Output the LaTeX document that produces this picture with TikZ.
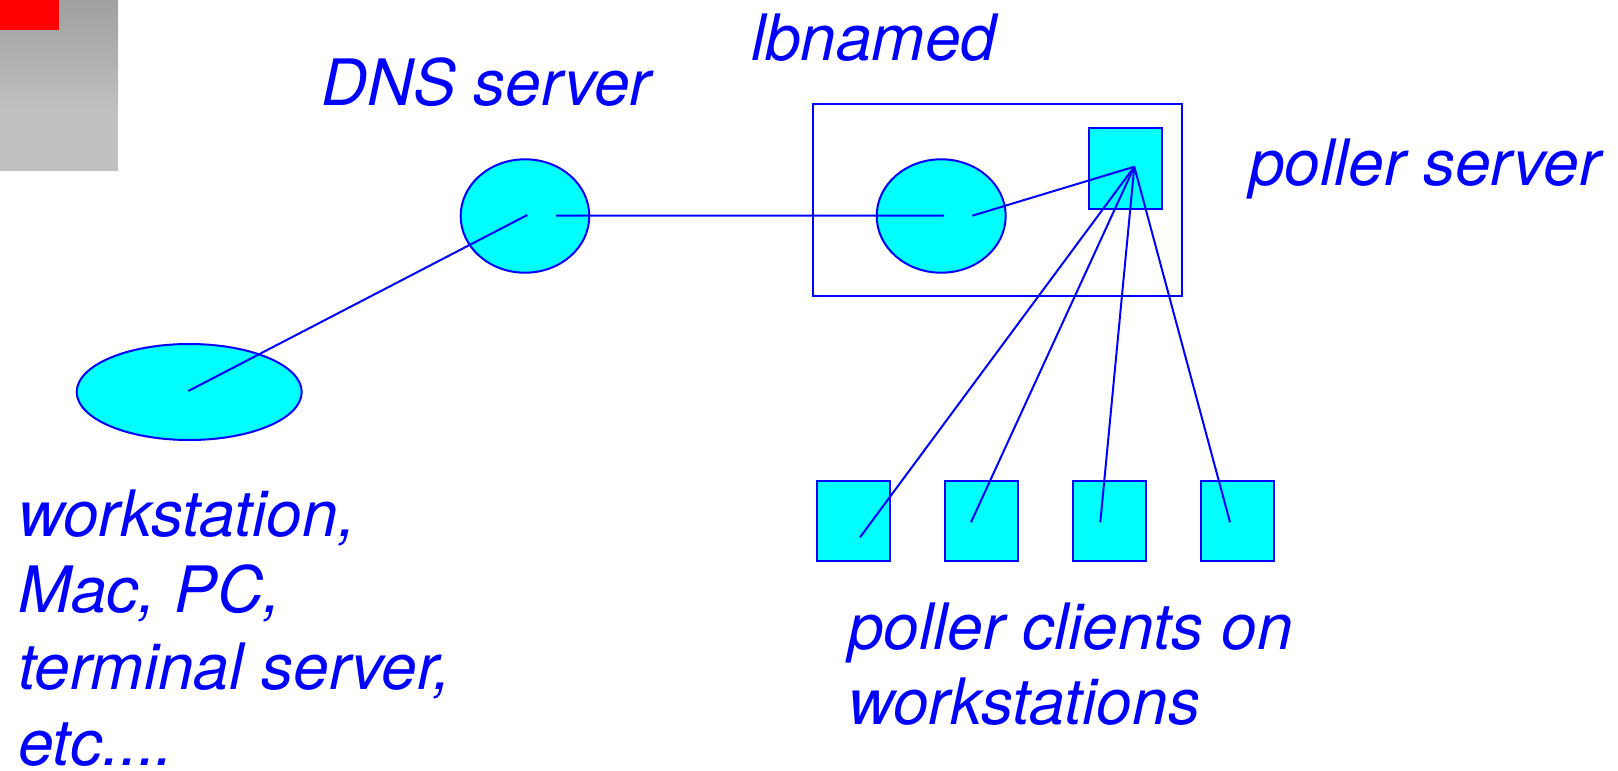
\documentclass[tikz,border=0pt]{standalone}
\usepackage{fontspec}
\setmainfont{TeX Gyre Heros}
\usetikzlibrary{shapes.geometric}
\definecolor{pblue}{RGB}{0,0,255}
\definecolor{pcyan}{RGB}{0,255,255}
\definecolor{gtop}{RGB}{160,160,160}
\definecolor{gbot}{RGB}{192,192,192}
\begin{document}
\begin{tikzpicture}[x=1pt,y=-1pt,
  lbl/.style={text=pblue, font=\fontsize{64}{76.8}\selectfont\itshape, inner sep=0pt, outer sep=0pt, anchor=base west},
  oval/.style={ellipse, draw=pblue, fill=pcyan, line width=2pt, inner sep=0pt, outer sep=0pt},
  sq/.style={rectangle, draw=pblue, fill=pcyan, line width=2pt, inner sep=0pt, outer sep=0pt, minimum width=73pt, minimum height=80pt},
  framebox/.style={rectangle, draw=pblue, line width=2pt, inner sep=0pt, outer sep=0pt},
  link/.style={draw=pblue, line width=2pt}]
\useasboundingbox (0,0) rectangle (1618,771);
% corner decoration
\shade[top color=gtop, bottom color=gbot] (0,0) rectangle (118,110);
\fill[gbot] (0,110) rectangle (118,171);
\fill[red] (0,0) rectangle (59,30);
% shapes
\node[framebox, minimum width=368.7pt, minimum height=191.7pt] (lbbox) at (997.7,200.2) {};
\node[oval, minimum width=225pt, minimum height=96pt] (ws) at (189.2,392) {};
\node[oval, minimum width=128.6pt, minimum height=113.4pt] (dns) at (525,216) {};
\node[oval, minimum width=129pt, minimum height=113.4pt] (lb) at (941.2,216) {};
\node[sq, minimum height=81pt] (ps) at (1125.7,168.5) {};
\node[sq] (c1) at (853.7,520.7) {};
\node[sq] (c2) at (981.7,520.7) {};
\node[sq] (c3) at (1109.7,520.7) {};
\node[sq] (c4) at (1237.7,520.7) {};
% connector ends
\coordinate (wsP) at (188.3,391);
\coordinate (dnsIn) at (527.3,215);
\coordinate (dnsOut) at (556,215.5);
\coordinate (lbIn) at (944,215.7);
\coordinate (lbOut) at (972.3,215.7);
\coordinate (psP) at (1134.3,166.7);
\coordinate (c1P) at (860,537.3);
\coordinate (c2P) at (971,522.3);
\coordinate (c3P) at (1100.3,522.3);
\coordinate (c4P) at (1230,522.3);
% connectors
\draw[link] (wsP) -- (dnsIn);
\draw[link] (dnsOut) -- (lbIn);
\draw[link] (lbOut) -- (psP);
\draw[link] (psP) -- (c1P);
\draw[link] (psP) -- (c2P);
\draw[link] (psP) -- (c3P);
\draw[link] (psP) -- (c4P);
% labels
\node[lbl] (tdns) at (321,105) {DNS server};
\node[lbl] (tlb) at (751,60) {lbnamed};
\node[lbl] (tps) at (1249,185) {poller server};
\node[lbl] (tpc1) at (848,649) {poller clients on};
\node[lbl] (tpc2) at (848,724) {workstations};
\node[lbl] (tws1) at (18,536) {workstation,};
\node[lbl] (tws2) at (18,612) {Mac, PC,};
\node[lbl] (tws3) at (18,689) {terminal server,};
\node[lbl] (tws4) at (18,765) {etc....};
\end{tikzpicture}
\end{document}
